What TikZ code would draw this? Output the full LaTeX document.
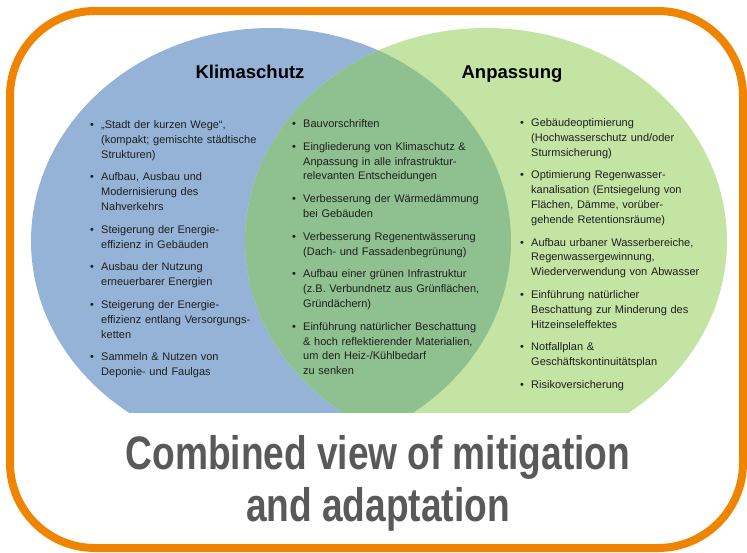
\documentclass[tikz,border=0pt]{standalone}
\usepackage{fontspec}
\setmainfont{Liberation Sans}
\newfontfamily\narrowfont[FakeStretch=0.79]{Liberation Sans}
\definecolor{kblue}{HTML}{95B3D7}
\definecolor{agreen}{HTML}{C4E4A4}
\definecolor{lensgreen}{HTML}{8FC08F}
\definecolor{frameorange}{HTML}{F08300}
\definecolor{titlegray}{HTML}{595959}
\definecolor{bodytext}{HTML}{1E1E1E}
\newcommand{\bul}[1]{\noindent\hangindent=11pt\hangafter=1\makebox[11pt][l]{\textbullet}#1\par}
\tikzset{
  column/.style={anchor=base west, inner sep=0pt, text width=230pt,
    text=bodytext, font=\fontsize{11}{14.8}\selectfont},
  heading/.style={anchor=base, inner sep=0pt, font=\fontsize{18.5}{22}\selectfont\bfseries},
  titletext/.style={anchor=base, inner sep=0pt, text width=700pt, align=center,
    text=titlegray, font=\narrowfont\fontsize{47}{52}\selectfont\bfseries},
}
\begin{document}
\begin{tikzpicture}[x=1pt,y=-1pt]
\useasboundingbox (0,0) rectangle (747,552);
\begin{scope}
  \clip (0,0) rectangle (747,412);
  \fill[kblue] (271,241) ellipse [x radius=240pt, y radius=213pt];
  \fill[agreen] (486,241) ellipse [x radius=241pt, y radius=213pt];
  \begin{scope}
    \clip (271,241) ellipse [x radius=240pt, y radius=213pt];
    \fill[lensgreen] (486,241) ellipse [x radius=241pt, y radius=213pt];
  \end{scope}
\end{scope}
\draw[frameorange, line width=8pt, rounded corners=85pt] (10,11) rectangle (743,548);

\node[heading] (klima) at (250,78) {Klimaschutz};
\node[heading] (anpass) at (512,78) {Anpassung};

\node[column] (left) at (90,128.5) {\raggedright\parindent=0pt\parskip=8pt%
\bul{„Stadt der kurzen Wege“,\newline(kompakt; gemischte städtische\newline Strukturen)}%
\bul{Aufbau, Ausbau und\newline Modernisierung des\newline Nahverkehrs}%
\bul{Steigerung der Energie-\newline effizienz in Gebäuden}%
\bul{Ausbau der Nutzung\newline erneuerbarer Energien}%
\bul{Steigerung der Energie-\newline effizienz entlang Versorgungs-\newline ketten}%
\bul{Sammeln \& Nutzen von\newline Deponie- und Faulgas}};

\node[column] (middle) at (292,127.5) {\raggedright\parindent=0pt\parskip=8pt%
\bul{Bauvorschriften}%
\bul{Eingliederung von Klimaschutz \&\newline Anpassung in alle infrastruktur-\newline relevanten Entscheidungen}%
\bul{Verbesserung der Wärmedämmung\newline bei Gebäuden}%
\bul{Verbesserung Regenentwässerung\newline (Dach- und Fassadenbegrünung)}%
\bul{Aufbau einer grünen Infrastruktur\newline (z.B. Verbundnetz aus Grünflächen,\newline Gründächern)}%
\bul{Einführung natürlicher Beschattung\newline\& hoch reflektierender Materialien,\newline um den Heiz-/Kühlbedarf\newline zu senken}};

\node[column] (right) at (520,126.5) {\raggedright\parindent=0pt\parskip=8pt%
\bul{Gebäudeoptimierung\newline(Hochwasserschutz und/oder\newline Sturmsicherung)}%
\bul{Optimierung Regenwasser-\newline kanalisation (Entsiegelung von\newline Flächen, Dämme, vorüber-\newline gehende Retentionsräume)}%
\bul{Aufbau urbaner Wasserbereiche,\newline Regenwassergewinnung,\newline Wiederverwendung von Abwasser}%
\bul{Einführung natürlicher\newline Beschattung zur Minderung des\newline Hitzeinseleffektes}%
\bul{Notfallplan \&\newline Geschäftskontinuitätsplan}%
\bul{Risikoversicherung}};

\node[titletext] (title) at (378,469) {\spaceskip=10pt\relax Combined view of mitigation\\and adaptation};
\end{tikzpicture}
\end{document}
